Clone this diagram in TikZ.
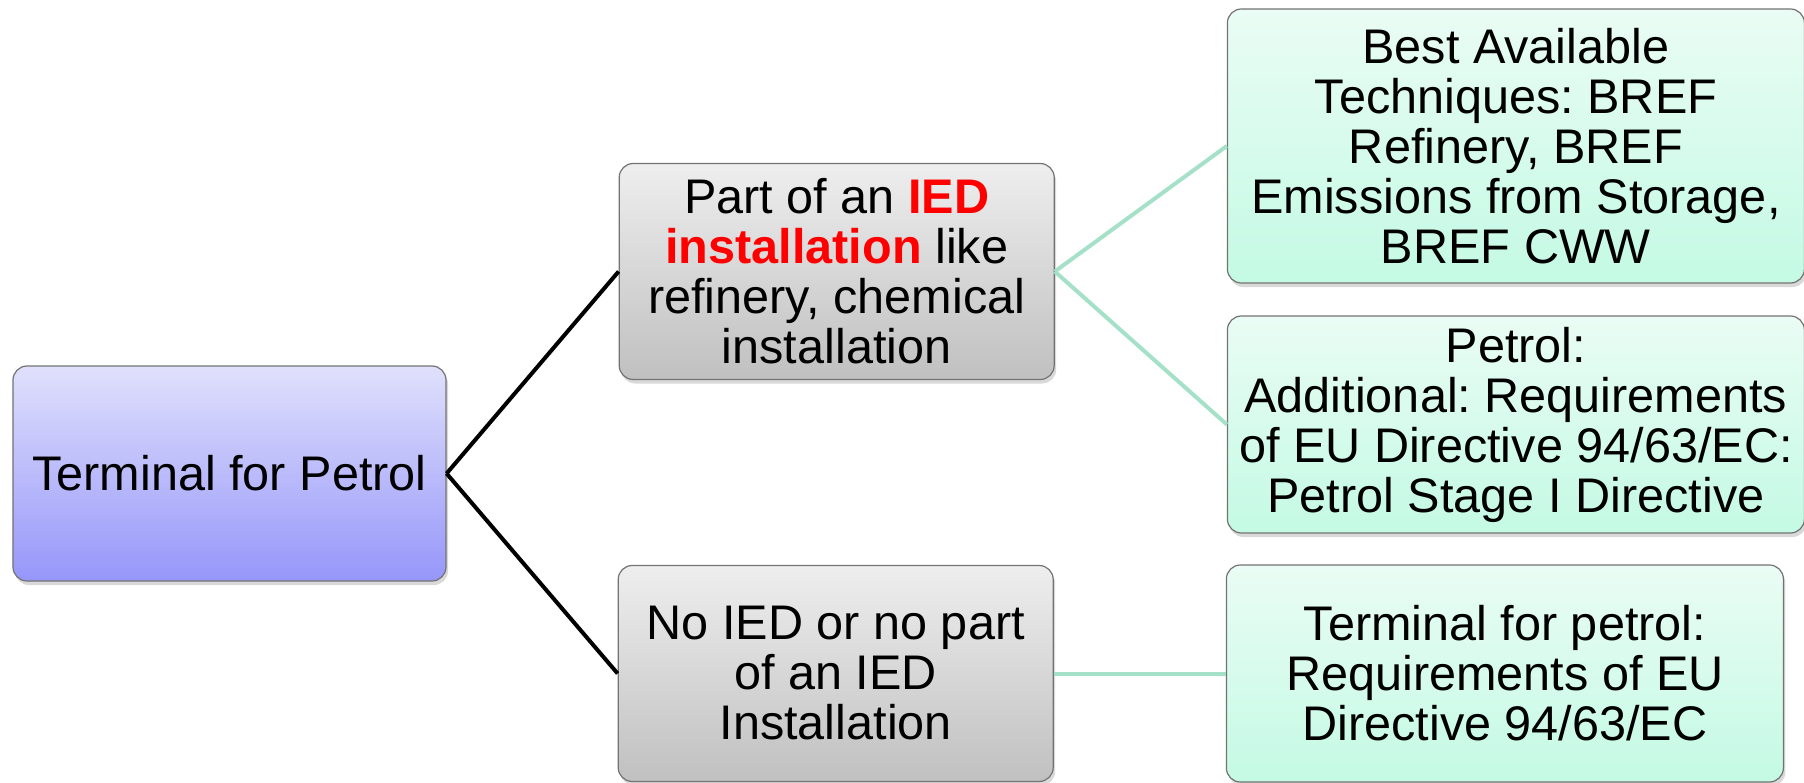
\documentclass[tikz,border=0pt]{standalone}
\usepackage{fontspec}
\setmainfont{Liberation Sans}
\usetikzlibrary{positioning,shadows}

\definecolor{rootTop}{RGB}{224,224,252}
\definecolor{rootBot}{RGB}{150,150,250}
\definecolor{greyTop}{RGB}{238,238,238}
\definecolor{greyBot}{RGB}{192,192,192}
\definecolor{greenTop}{RGB}{234,252,245}
\definecolor{greenBot}{RGB}{196,250,228}
\definecolor{greenLine}{RGB}{165,225,200}
\definecolor{iedRed}{RGB}{255,0,0}
\frenchspacing

\begin{document}
\begin{tikzpicture}[cnode/.style={rectangle,rounded corners=7pt,draw=black!55,line width=0.6pt,align=center,inner sep=2pt,font=\fontsize{24.3}{25}\selectfont,drop shadow={shadow xshift=1pt,shadow yshift=-2pt,opacity=0.3}},
	rootnode/.style={cnode,top color=rootTop,bottom color=rootBot,minimum width=216.5pt,minimum height=107.5pt},
	greynode/.style={cnode,top color=greyTop,bottom color=greyBot,minimum width=217.5pt,minimum height=108pt},
	greennode/.style={cnode,top color=greenTop,bottom color=greenBot,minimum width=288.5pt,minimum height=108.5pt},
	node distance = 86pt]
	\useasboundingbox (-114.75pt,-154.25pt) rectangle (787.25pt,236.75pt);
	\node[rootnode] (root){Terminal for Petrol};
	\node[greynode] (ied)[right = of root, yshift=101pt]{Part of an {\color{iedRed}\bfseries IED}\\{\color{iedRed}\bfseries installation} like\\refinery, chemical\\installation};
	\node[greynode] (noied)[right = 85.5pt of root, yshift=-100pt]{No IED or no part\\of an IED\\Installation};
	\node[greennode, minimum height=137pt] (bat)[right = of ied, yshift=62.75pt]{Best Available\\Techniques: BREF\\Refinery, BREF\\Emissions from Storage,\\BREF CWW};
	\node[greennode] (petrol)[right = of ied, yshift=-76.5pt]{Petrol:\\Additional: Requirements\\of EU Directive 94/63/EC:\\Petrol Stage I Directive};
	\node[greennode, minimum width=278.5pt] (termpetrol)[right = of noied]{Terminal for petrol:\\Requirements of EU\\Directive 94/63/EC};
	\draw[line width=2pt] (root.east) -- (ied.west);
	\draw[line width=2pt] (root.east) -- (noied.west);
	\draw[line width=2pt,greenLine] (ied.east) -- (bat.west);
	\draw[line width=2pt,greenLine] (ied.east) -- (petrol.west);
	\draw[line width=2pt,greenLine] (noied.east) -- (termpetrol.west);
\end{tikzpicture}
\end{document}
